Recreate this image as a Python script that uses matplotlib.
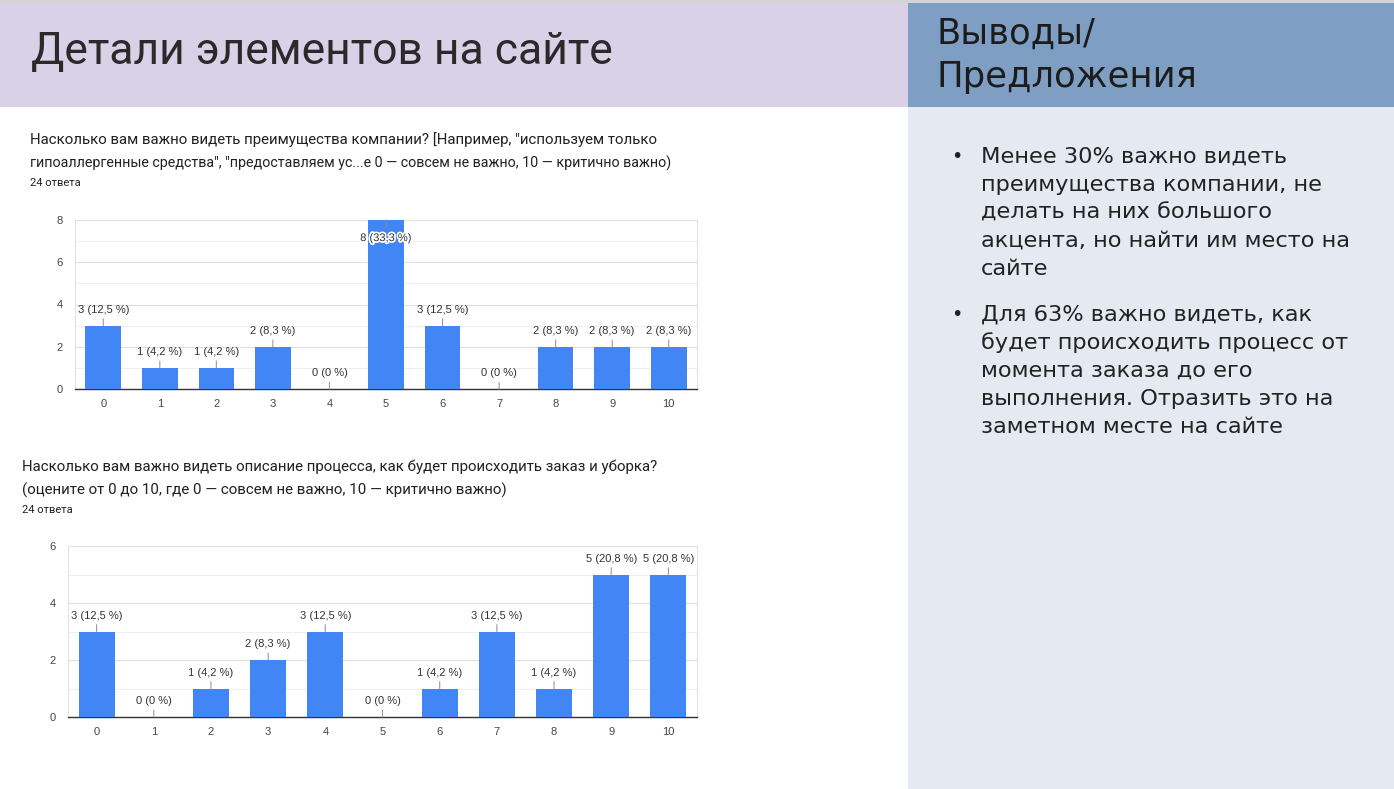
import matplotlib
matplotlib.use("Agg")
import matplotlib.pyplot as plt
from matplotlib.patches import Rectangle
import matplotlib.patheffects as pe
import numpy as np

plt.rcParams['font.family'] = ['Roboto', 'DejaVu Sans']

# ---------------- data ----------------
categories = [str(i) for i in range(11)]
counts1 = [3, 1, 1, 2, 0, 8, 3, 0, 2, 2, 2]
pct1 = ["12,5", "4,2", "4,2", "8,3", "0", "33,3", "12,5", "0", "8,3", "8,3", "8,3"]
counts2 = [3, 0, 1, 2, 3, 0, 1, 3, 1, 5, 5]
pct2 = ["12,5", "0", "4,2", "8,3", "12,5", "0", "4,2", "12,5", "4,2", "20,8", "20,8"]
yticks1 = [0, 2, 4, 6, 8]
yticks2 = [0, 2, 4, 6]

header_title = "Детали элементов на сайте"
right_title = ["Выводы/", "Предложения"]
q1_lines = ["Насколько вам важно видеть преимущества компании? [Например, \"используем только",
            "гипоаллергенные средства\", \"предоставляем ус...е 0 — совсем не важно, 10 — критично важно)"]
q2_lines = ["Насколько вам важно видеть описание процесса, как будет происходить заказ и уборка?",
            "(оцените от 0 до 10, где 0 — совсем не важно, 10 — критично важно)"]
answers = "24 ответа"
bullets = [
    ["Менее 30% важно видеть", "преимущества компании, не", "делать на них большого",
     "акцента, но найти им место на", "сайте"],
    ["Для 63% важно видеть, как", "будет происходить процесс от", "момента заказа до его",
     "выполнения. Отразить это на", "заметном месте на сайте"],
]

W, H = 1394, 789
fig = plt.figure(figsize=(W / 100, H / 100), dpi=100)
fig.patch.set_facecolor("white")

RIGHT_FONT = ["DejaVu Sans"]
CHART_FONT = ["Liberation Sans", "DejaVu Sans"]

def px(x, y):
    return x / W, 1 - y / H

def rect(x0, y0, x1, y1, color):
    fig.patches.append(Rectangle((x0 / W, 1 - y1 / H), (x1 - x0) / W, (y1 - y0) / H,
                                 transform=fig.transFigure, facecolor=color,
                                 edgecolor="none", zorder=0))

rect(0, 0, W, 3, "#d4d4d4")
rect(0, 3, 908, 107, "#d9d1e7")
rect(908, 3, W, 107, "#7f9ec3")
rect(908, 107, W, H, "#e4e9f2")

# header texts
fig.text(*px(31, 52), header_title, fontsize=32, color="#2a2a2a", va="center",
         ha="left")
fig.text(*px(936, 34), right_title[0], fontsize=25.5, color="#1c1c1c", va="center",
         ha="left", family=RIGHT_FONT)
fig.text(*px(936, 77), right_title[1], fontsize=25.5, color="#1c1c1c", va="center",
         ha="left", family=RIGHT_FONT)

# bullets
y = 157
for bl in bullets:
    fig.text(*px(951, y), "•", fontsize=14, color="#222222", va="center", ha="left",
             family=RIGHT_FONT)
    for line in bl:
        fig.text(*px(981, y), line, fontsize=16.2, color="#222222", va="center", ha="left",
                 family=RIGHT_FONT)
        y += 28
    y += 18

# questions
def question(x, ys, lines, sizes, yans):
    for yy, line, fs in zip(ys, lines, sizes):
        fig.text(*px(x, yy), line, fontsize=fs, color="#202124", va="center", ha="left")
    fig.text(*px(x, yans), answers, fontsize=8, color="#202124", va="center", ha="left")

question(30, [140, 163], q1_lines, [10.8, 10.3], 183)
question(22, [467, 490], q2_lines, [10.8, 10.9], 510)

BAR = "#4285f4"

def chart(rectpx, counts, pcts, yticks, ymax):
    x0, y0, x1, y1 = rectpx
    ax = fig.add_axes([x0 / W, 1 - y1 / H, (x1 - x0) / W, (y1 - y0) / H])
    xs = np.arange(len(counts))
    ax.bar(xs, counts, width=0.63, color=BAR, zorder=3)
    ax.set_xlim(-0.5, len(counts) - 0.5)
    ax.set_ylim(0, ymax)
    ax.set_yticks(yticks)
    ax.set_yticks(np.arange(1, ymax, 2), minor=True)
    ax.set_xticks(xs)
    ax.set_xticklabels(categories)
    for lab in ax.get_xticklabels() + ax.get_yticklabels():
        lab.set_family(CHART_FONT)
    ax.tick_params(axis="both", which="both", length=0, labelsize=8, labelcolor="#444444")
    ax.tick_params(axis="y", pad=9)
    ax.tick_params(axis="x", pad=7)
    ax.grid(axis="y", which="major", color="#dedede", lw=0.8, zorder=0)
    ax.grid(axis="y", which="minor", color="#efefef", lw=0.8, zorder=0)
    for s in ["left", "top", "right"]:
        ax.spines[s].set_color("#e3e3e3")
        ax.spines[s].set_linewidth(0.8)
    ax.spines["bottom"].set_color("#333333")
    ax.spines["bottom"].set_linewidth(1.0)
    ax.set_facecolor("white")
    for xi, (c, p) in enumerate(zip(counts, pcts)):
        label = f"{c} ({p} %)"
        if c >= ymax:
            ax.annotate(label, xy=(xi, c), xytext=(0, -13), textcoords="offset points",
                        ha="center", va="center", fontsize=8, color="#333333", zorder=5,
                        family=CHART_FONT,
                        path_effects=[pe.withStroke(linewidth=2.5, foreground="white")],
                        arrowprops=dict(arrowstyle="-", color="#888888", lw=0.8,
                                        shrinkA=1, shrinkB=0))
        else:
            ax.annotate(label, xy=(xi, c), xytext=(0, 11.5), textcoords="offset points",
                        ha="center", va="center", fontsize=8, color="#333333", zorder=5,
                        family=CHART_FONT,
                        arrowprops=dict(arrowstyle="-", color="#999999", lw=0.8,
                                        shrinkA=1, shrinkB=0))
    return ax

chart((75, 220, 697, 389), counts1, pct1, yticks1, 8)
chart((68, 546, 697, 717), counts2, pct2, yticks2, 6)

fig.savefig("out.png", dpi=100, facecolor=fig.get_facecolor())
